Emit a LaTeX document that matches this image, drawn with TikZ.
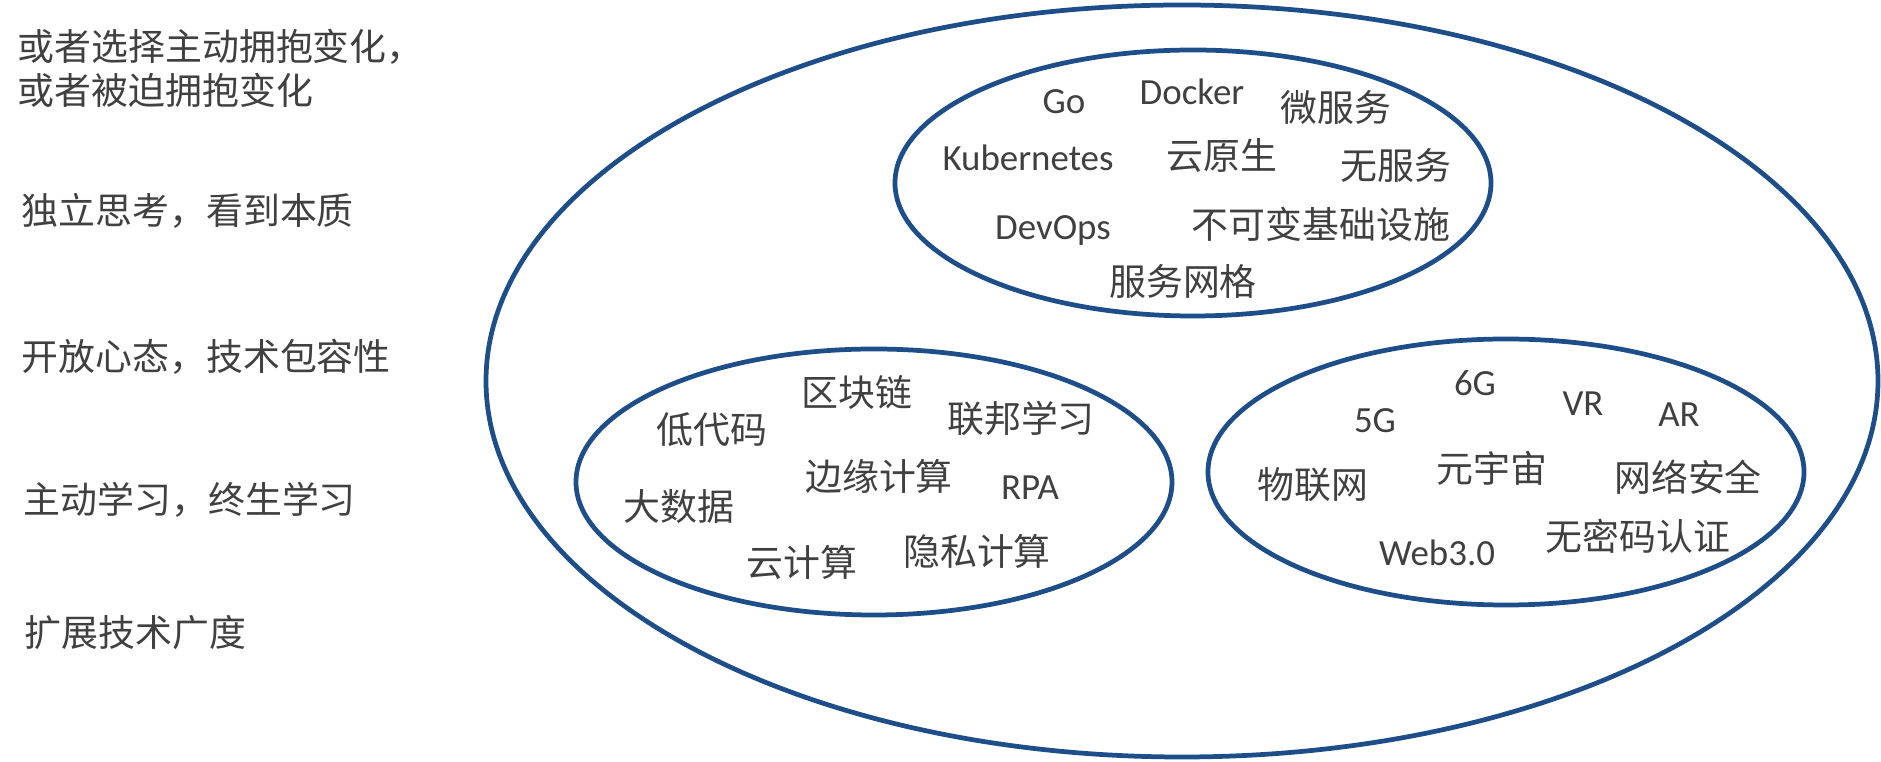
\documentclass[tikz,border=0pt]{standalone}
\usepackage{fontspec}
\setmainfont{Carlito}
\newfontfamily\cjk{Noto Sans CJK SC}
\usepackage{xcolor}
\definecolor{b1}{HTML}{1D4E89}
\definecolor{g1}{HTML}{404040}
\tikzset{
	zh/.style = {text = g1, inner sep = 0pt, font = \cjk\fontsize{10.5}{12.6}\selectfont},
	en/.style = {text = g1, inner sep = 0pt, font = \fontsize{10.5}{12.6}\selectfont},
	ring/.style = {draw = b1, line width = 1.35pt}
}

\begin{document}
\begin{tikzpicture}
	\useasboundingbox (0,0) rectangle (18.81,7.62);
	\begin{scope}
	% rings
	\draw [ring] (11.82,3.81) ellipse (6.96 and 3.76);
	\draw [ring] (11.93,5.79) ellipse (2.98 and 1.33);
	\draw [ring] (8.74,2.80) ellipse (2.98 and 1.33);
	\draw [ring] (15.06,2.90) ellipse (2.98 and 1.33);
	% left column
	\node [zh,anchor=west] (change1) at (0.17,7.15) {或者选择主动拥抱变化，};
	\node [zh,anchor=west] (change2) at (0.17,6.72) {或者被迫拥抱变化};
	\node [zh,anchor=west] (think) at (0.21,5.51) {独立思考，看到本质};
	\node [zh,anchor=west] (open) at (0.21,4.05) {开放心态，技术包容性};
	\node [zh,anchor=west] (learn) at (0.23,2.62) {主动学习，终生学习};
	\node [zh,anchor=west] (broad) at (0.24,1.29) {扩展技术广度};
	% cloud native
	\node [en] (go) at (10.64,6.60) {Go};
	\node [en] (docker) at (11.92,6.70) {Docker};
	\node [zh] (micro) at (13.36,6.54) {微服务};
	\node [en] (k8s) at (10.28,6.04) {Kubernetes};
	\node [zh] (cloudnative) at (12.22,6.06) {云原生};
	\node [zh] (serverless) at (13.96,5.97) {无服务};
	\node [en] (devops) at (10.53,5.31) {DevOps};
	\node [zh] (immutable) at (13.21,5.38) {不可变基础设施};
	\node [zh] (mesh) at (11.83,4.81) {服务网格};
	% data
	\node [zh] (lowcode) at (7.12,3.32) {低代码};
	\node [zh] (chain) at (8.57,3.70) {区块链};
	\node [zh] (federated) at (10.21,3.44) {联邦学习};
	\node [zh] (edge) at (8.79,2.86) {边缘计算};
	\node [zh] (bigdata) at (6.79,2.55) {大数据};
	\node [en] (rpa) at (10.30,2.74) {RPA};
	\node [zh] (cloud) at (8.02,2.00) {云计算};
	\node [zh] (privacy) at (9.77,2.11) {隐私计算};
	% network
	\node [en] (sixg) at (14.75,3.79) {6G};
	\node [en] (fiveg) at (13.75,3.41) {5G};
	\node [en] (vr) at (15.83,3.58) {VR};
	\node [en] (ar) at (16.79,3.47) {AR};
	\node [zh] (iot) at (13.13,2.77) {物联网};
	\node [zh] (meta) at (14.92,2.94) {元宇宙};
	\node [zh] (security) at (16.88,2.85) {网络安全};
	\node [en] (web) at (14.37,2.09) {Web3.0};
	\node [zh] (passwordless) at (16.38,2.26) {无密码认证};
	\end{scope}
\end{tikzpicture}
\end{document}
